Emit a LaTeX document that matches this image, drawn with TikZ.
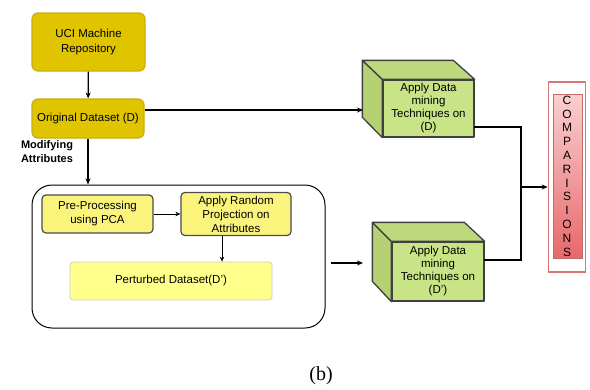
\documentclass[tikz,border=0pt]{standalone}
\usepackage{fontspec}
\setmainfont{Liberation Sans}
\newfontfamily\capfont{Liberation Serif}
\usetikzlibrary{arrows.meta,shadings}
\definecolor{gold}{HTML}{E0C400}
\definecolor{goldline}{HTML}{C8AE10}
\definecolor{lyel}{HTML}{FAF47C}
\definecolor{pyel}{HTML}{FFFF8C}
\definecolor{gfront}{HTML}{C9E486}
\definecolor{gside}{HTML}{B6D174}
\definecolor{cmpline}{HTML}{D87676}
\definecolor{cmptop}{HTML}{F9D0D0}
\definecolor{cmpbot}{HTML}{E8686A}
\tikzset{
  goldbox/.style={draw=goldline, line width=1.2pt, fill=gold, rounded corners=6pt, align=center, font=\fontsize{11.5}{15}\selectfont},
  ybox/.style={draw=black!70, line width=1.2pt, fill=lyel, rounded corners=4pt, align=center, font=\fontsize{11.5}{14}\selectfont},
  pbox/.style={draw=black!20, line width=0.8pt, fill=pyel, rounded corners=3pt, align=center, font=\fontsize{11.5}{14}\selectfont},
  face/.style={draw=black!75, line width=1.3pt, line join=round},
  conn/.style={line width=1.2pt, -{Stealth[length=6pt,width=5pt]}},
  thin/.style={line width=0.8pt, -{Stealth[length=5pt,width=4.5pt]}},
  dmtext/.style={align=center, font=\fontsize{11.5}{13}\selectfont},
}
\begin{document}
\begin{tikzpicture}[x=1pt,y=-1pt]
\useasboundingbox (0,0) rectangle (590,389);
% gold boxes
\node[goldbox, minimum width=113pt, minimum height=58pt] (uci) at (88.5,42) {UCI Machine\\Repository};
\node[goldbox, minimum width=112pt, minimum height=39pt] (orig) at (88,118.5) {Original Dataset (D)};
\node[font=\bfseries\fontsize{11}{14}\selectfont, align=center] (mod) at (47,152) {Modifying\\Attributes};
% group box
\node[draw=black, line width=1pt, rounded corners=20pt, minimum width=293pt, minimum height=143pt] (grp) at (178.5,256.5) {};
\node[ybox, minimum width=111pt, minimum height=38pt] (pre) at (97.5,214) {Pre-Processing\\using PCA};
\node[ybox, minimum width=110pt, minimum height=38pt] (rp) at (236,214) {Apply Random\\Projection on\\Attributes};
\node[pbox, minimum width=202pt, minimum height=38pt] (pert) at (171,281) {Perturbed Dataset(D')};
% 3D boxes
\node[face, fill=gfront, minimum width=91pt, minimum height=57pt, dmtext] (dm1) at (428.5,108.5) {Apply Data\\mining\\Techniques on\\(D)};
\draw[face, fill=gside] (dm1.north west) -- ++(-20,-19) -- ++(0,57) -- (dm1.south west) -- cycle;
\draw[face, fill=gside!60!gfront] (dm1.north west) -- ++(-20,-19) -- ++(91,0) -- (dm1.north east) -- cycle;
\node[face, fill=gfront, minimum width=92pt, minimum height=59pt, dmtext] (dm2) at (438,271.5) {Apply Data\\mining\\Techniques on\\(D')};
\draw[face, fill=gside] (dm2.north west) -- ++(-19,-19) -- ++(0,59) -- (dm2.south west) -- cycle;
\draw[face, fill=gside!60!gfront] (dm2.north west) -- ++(-19,-19) -- ++(92,0) -- (dm2.north east) -- cycle;
% comparisons
\node[draw=cmpline, line width=1.6pt, minimum width=37pt, minimum height=190pt] (cmp) at (567,177) {};
\node[draw=cmpline!90!black, line width=0.8pt, top color=cmptop, bottom color=cmpbot, minimum width=29pt, minimum height=164pt] (cmpin) at (567.5,176) {};
\node[font=\fontsize{12}{13.8}\selectfont, align=center] (cmptxt) at (567,176) {C\\O\\M\\P\\A\\R\\I\\S\\I\\O\\N\\S};
% coordinates
\coordinate (dm1w) at (363,110);
\coordinate (dm1o) at (474,127);
\coordinate (dm2o) at (484,260);
\coordinate (j) at (521,187);
\coordinate (dm2w) at (373,263);
% connectors
\draw[conn] (uci) -- (orig);
\draw[conn] (orig.south) -- (orig.south |- grp.north);
\draw[conn] (orig.east |- dm1w) -- (dm1w);
\draw[line width=1.2pt] (dm1o) -| (j);
\draw[line width=1.2pt] (dm2o) -| (j);
\draw[conn] (j) -- (j -| cmp.west);
\draw[conn, shorten <=5pt, shorten >=10pt] (grp.east |- dm2w) -- (dm2w);
\draw[thin] (pre) -- (rp);
\draw[thin] (rp.south -| 222,0) -- (pert.north -| 222,0);
% caption
\node[font=\capfont\fontsize{20}{22}\selectfont] (cap) at (321,376) {(b)};
\end{tikzpicture}
\end{document}
